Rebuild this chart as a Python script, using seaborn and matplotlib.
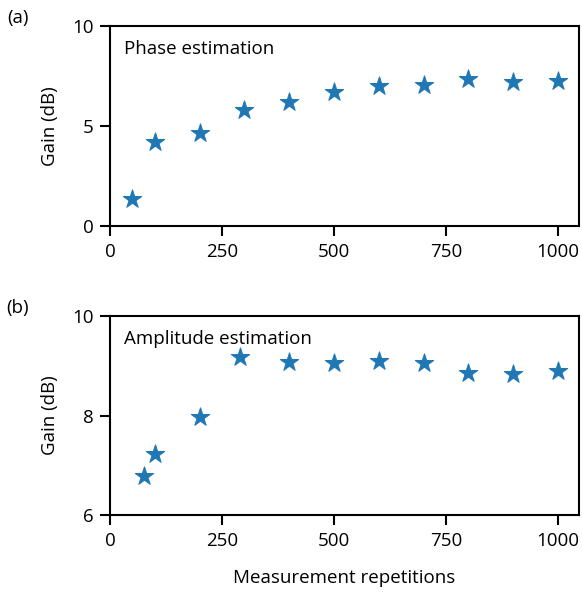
import matplotlib
matplotlib.use("Agg")
import matplotlib.pyplot as plt
import seaborn as sns
import pandas as pd

# Data
phase_reps = [50, 100, 200, 300, 400, 500, 600, 700, 800, 900, 1000]
phase_gain = [1.35, 4.2, 4.65, 5.8, 6.2, 6.7, 7.0, 7.05, 7.35, 7.2, 7.27]
amp_reps = [75, 100, 200, 290, 400, 500, 600, 700, 800, 900, 1000]
amp_gain = [6.79, 7.22, 7.96, 9.18, 9.07, 9.05, 9.10, 9.05, 8.86, 8.83, 8.89]
x_ticks = [0, 250, 500, 750, 1000]
a_yticks = [0, 5, 10]
b_yticks = [6, 8, 10]

sns.set_theme(style="white")
plt.rcParams['font.family'] = ['Open Sans', 'DejaVu Sans']
plt.rcParams['text.color'] = 'black'
plt.rcParams['axes.labelcolor'] = 'black'
plt.rcParams['xtick.color'] = 'black'
plt.rcParams['ytick.color'] = 'black'
FS = 13.5

color = "#1f77b4"
fig = plt.figure(figsize=(5.82, 5.94), dpi=100)
ax1 = fig.add_axes([0.189, 0.6195, 0.806, 0.3365])
ax2 = fig.add_axes([0.189, 0.133, 0.806, 0.335])

df_a = pd.DataFrame({"reps": phase_reps, "gain": phase_gain})
df_b = pd.DataFrame({"reps": amp_reps, "gain": amp_gain})

for ax, df, yt, ylim, title, lab in [
    (ax1, df_a, a_yticks, (0, 10), "Phase estimation", "(a)"),
    (ax2, df_b, b_yticks, (6, 10), "Amplitude estimation", "(b)"),
]:
    sns.scatterplot(data=df, x="reps", y="gain", ax=ax, marker="*", s=195,
                    color=color, edgecolor=color, linewidth=0.7, zorder=3)
    ax.set_xlim(0, 1047)
    ax.set_ylim(*ylim)
    ax.set_xticks(x_ticks)
    ax.set_yticks(yt)
    ax.set_ylabel("Gain (dB)", fontsize=FS, labelpad=9)
    ax.set_xlabel("")
    for sp in ax.spines.values():
        sp.set_visible(True)
        sp.set_color("black")
        sp.set_linewidth(1.5)
    ax.tick_params(axis="both", which="major", direction="out", length=7,
                   width=1.5, colors="black", labelsize=FS, pad=5,
                   bottom=True, left=True, top=False, right=False)
    ax.text(0.03, 0.885, title, transform=ax.transAxes, fontsize=FS,
            ha="left", va="center", color="black")
    ax.text(-0.196, 1.04, lab, transform=ax.transAxes, fontsize=FS,
            ha="center", va="center", color="black")

ax2.set_xlabel("Measurement repetitions", fontsize=FS, labelpad=14)

fig.savefig("out.png", dpi=100)
